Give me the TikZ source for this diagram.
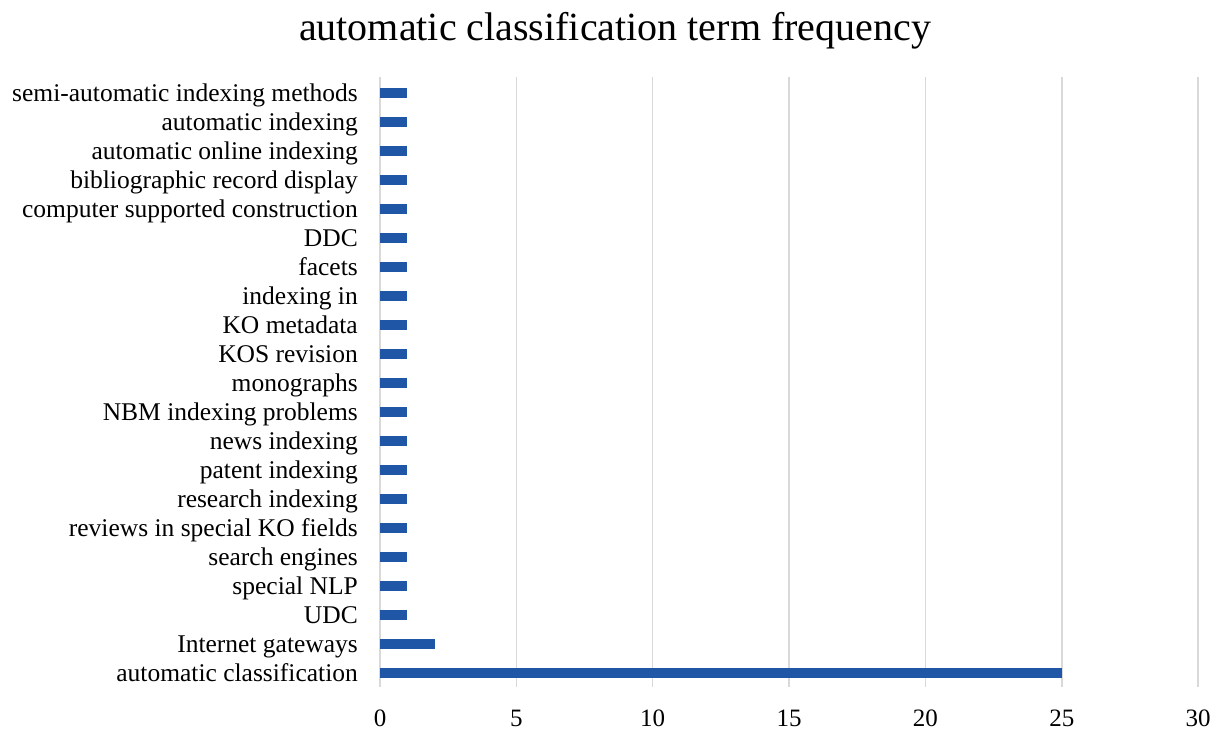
\documentclass[tikz,border=0pt]{standalone}
\usepackage{fontspec}
\setmainfont{Liberation Serif}
\usetikzlibrary{positioning}
\definecolor{barblue}{RGB}{31,86,165}
\definecolor{gridgray}{RGB}{217,217,217}

\begin{document}
\begin{tikzpicture}[
    x=1pt, y=-1pt,
    charttitle/.style={anchor=base, inner sep=0pt, font=\fontsize{40}{40}\selectfont},
    term/.style={anchor=base east, inner sep=0pt, font=\fontsize{25.5}{25.5}\selectfont},
    ticklabel/.style={anchor=base, inner sep=0pt, font=\fontsize{25}{25}\selectfont},
    gridline/.style={draw=gridgray, line width=1.5pt},
    hbar/.style={fill=barblue},
]
\useasboundingbox (0,0) rectangle (1219,731);

% Title
\node[charttitle] (ttl) at (615,40) {automatic classification term frequency};

% Gridlines and axis ticks
\foreach \v in {0,5,...,30} {
  \coordinate (g\v) at ({380+27.27*\v},77);
  \draw[gridline] (g\v) -- ++(0,610);
  \node[ticklabel] (t\v) at ({380+27.27*\v},726) {\v};
}

% Terms and bars
\foreach [count=\i from 0] \lab/\v in {
    semi-automatic indexing methods/1, automatic indexing/1,
    automatic online indexing/1, bibliographic record display/1,
    computer supported construction/1, DDC/1, facets/1, indexing in/1,
    KO metadata/1, KOS revision/1, monographs/1, NBM indexing problems/1,
    news indexing/1, patent indexing/1, research indexing/1,
    reviews in special KO fields/1, search engines/1, special NLP/1,
    UDC/1, Internet gateways/2, automatic classification/25} {
  \node[term] (lab\i) at (358,{101+29*\i}) {\lab};
  \fill[hbar] (380,{87.5+29*\i}) rectangle ++({27.27*\v},10);
}

\end{tikzpicture}
\end{document}
